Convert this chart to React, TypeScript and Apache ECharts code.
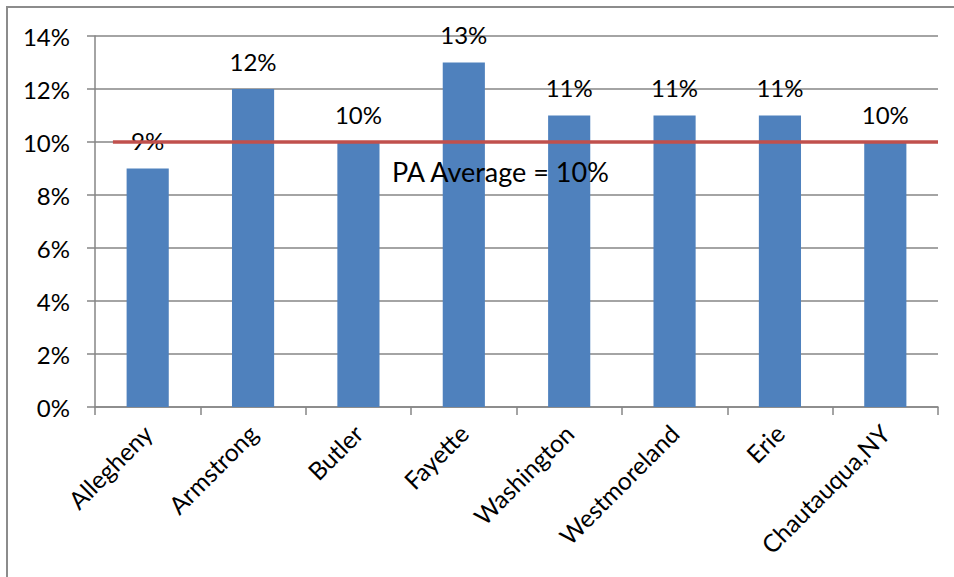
import React, { useEffect, useRef } from "react";
import * as echarts from "echarts";

const categories = ["Allegheny", "Armstrong", "Butler", "Fayette", "Washington", "Westmoreland", "Erie", "Chautauqua,NY"];
const values = [9, 12, 10, 13, 11, 11, 11, 10];
const paAverage = 10;
const paAverageLabel = "PA Average = 10%";
const avgLineX = [0.17, 8];
const yTicks = [0, 2, 4, 6, 8, 10, 12, 14];

export default function App() {
  const ref = useRef<HTMLDivElement>(null);
  useEffect(() => {
    const chart = echarts.init(ref.current!, null, { renderer: "svg" });
    const font = "Lato, 'Open Sans', sans-serif";
    chart.setOption({
      animation: false,
      backgroundColor: "#ffffff",
      textStyle: { fontFamily: font },
      grid: { left: 95, right: 16, top: 36, bottom: 170, containLabel: false },
      graphic: [
        {
          type: "polyline",
          shape: { points: [[7, 600], [7, 7], [960, 7]] },
          style: { stroke: "#8c8c8c", lineWidth: 2, fill: "none" },
          silent: true,
        },
        {
          type: "text",
          left: 392,
          top: 158,
          style: { text: paAverageLabel, fontSize: 27, fontFamily: font, fill: "#000000" },
          z: 10,
        },
      ],
      xAxis: [
        {
          type: "category",
          data: categories,
          axisLine: { lineStyle: { color: "#868686", width: 1.5 } },
          axisTick: { show: true, length: 8, alignWithLabel: false, lineStyle: { color: "#868686", width: 1.5 } },
          axisLabel: { rotate: 45, fontSize: 24.5, color: "#000000", margin: 22, interval: 0, fontFamily: font },
        },
        {
          type: "value",
          min: 0,
          max: 8,
          show: false,
        },
      ],
      yAxis: {
        type: "value",
        min: 0,
        max: 14,
        interval: 2,
        axisLine: { show: true, lineStyle: { color: "#868686", width: 1.5 } },
        axisTick: { show: true, length: 8, lineStyle: { color: "#868686", width: 1.5 } },
        splitLine: { lineStyle: { color: "#868686", width: 1.5 } },
        axisLabel: {
          fontSize: 24,
          color: "#000000",
          margin: 25,
          fontFamily: font,
          formatter: (v: number) => (yTicks.includes(v) ? v + "%" : ""),
        },
      },
      series: [
        {
          type: "bar",
          data: values,
          barCategoryGap: "60%",
          itemStyle: { color: "#4F81BD" },
          label: {
            show: true,
            position: "top",
            distance: 16,
            fontSize: 24,
            color: "#000000",
            fontFamily: font,
            formatter: (p: any) => p.value + "%",
          },
          z: 2,
        },
        {
          type: "line",
          xAxisIndex: 1,
          data: [[avgLineX[0], paAverage], [avgLineX[1], paAverage]],
          symbol: "none",
          lineStyle: { color: "#C0504D", width: 3.5 },
          z: 5,
        },
      ],
    });
    return () => chart.dispose();
  }, []);
  return <div ref={ref} style={{ position: "fixed", left: 0, top: 0, width: 954, height: 577 }} />;
}
